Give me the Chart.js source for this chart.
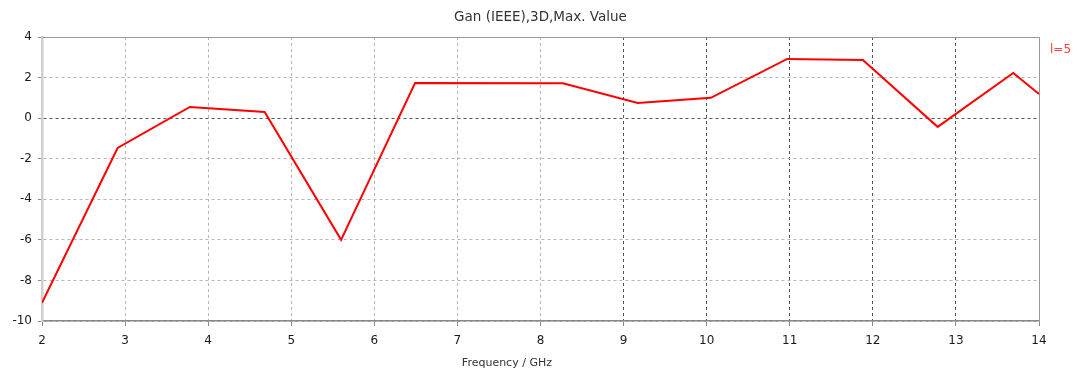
<!DOCTYPE html>
<html>
<head>
<meta charset="utf-8">
<script src="https://cdn.jsdelivr.net/npm/chart.js@4"></script>
<style>
  html, body { margin: 0; padding: 0; background: #fff; }
  #wrap { width: 1078px; height: 372px; }
</style>
</head>
<body>
<div id="wrap"><canvas id="gainChart"></canvas></div>
<script>
// Frequency (GHz) and gain values
const freqs = [2, 2.91, 3.78, 4.68, 5.6, 6.49, 8.27, 9.17, 10.05, 10.97, 11.88, 12.78, 13.69, 14];
const gain = [-9.1, -1.47, 0.55, 0.3, -6.0, 1.73, 1.72, 0.75, 1.0, 2.92, 2.87, -0.43, 2.23, 1.19];
const yTicks = [-10, -8, -6, -4, -2, 0, 2, 4];
const seriesLabel = 'l=5';
const chartTitle = 'Gan (IEEE),3D,Max. Value';
const xTitle = 'Frequency / GHz';

const points = freqs.map((f, i) => ({ x: f, y: gain[i] }));
const fontFamily = '"DejaVu Sans", Verdana, sans-serif';

// frame round the plot area, series label, title and x-axis title
const framePlugin = {
    id: 'frame',
    afterDraw(chart) {
        const { ctx, chartArea: a } = chart;
        ctx.save();
        ctx.strokeStyle = '#9a9a9a';
        ctx.lineWidth = 1;
        ctx.beginPath();
        ctx.moveTo(a.left, a.top + 0.5);
        ctx.lineTo(a.right + 0.5, a.top + 0.5);
        ctx.lineTo(a.right + 0.5, a.bottom);
        ctx.stroke();

        ctx.textBaseline = 'middle';
        ctx.fillStyle = '#ff4040';
        ctx.font = '12px ' + fontFamily;
        ctx.fillText(seriesLabel, a.right + 11, a.top + 13);

        ctx.fillStyle = '#333';
        ctx.textAlign = 'center';
        ctx.font = '13.5px ' + fontFamily;
        ctx.fillText(chartTitle, (a.left + a.right) / 2, 17);
        ctx.font = '11px ' + fontFamily;
        ctx.fillText(xTitle, a.left + (a.right - a.left) * 0.4663, 363);
        ctx.restore();
    }
};

const ctx = document.getElementById('gainChart').getContext('2d');
const gainChart = new Chart(ctx, {
    type: 'line',
    data: {
        datasets: [{
            label: seriesLabel,
            data: points,
            borderColor: '#ff0000',
            borderWidth: 2,
            pointRadius: 0,
            tension: 0,
            fill: false
        }]
    },
    options: {
        responsive: true,
        maintainAspectRatio: false,
        animation: false,
        layout: { padding: { left: 0, right: 39, top: 37, bottom: 0 } },
        plugins: {
            legend: { display: false },
            tooltip: { enabled: false },
            title: { display: false }
        },
        scales: {
            x: {
                type: 'linear',
                min: 2,
                max: 14,
                afterFit: (scale) => { scale.height = 51; },
                ticks: {
                    stepSize: 1,
                    color: '#1a1a1a',
                    padding: 8,
                    maxRotation: 0,
                    font: { family: fontFamily, size: 12 }
                },
                grid: {
                    color: (c) => (c.tick && c.tick.value >= 9 && c.tick.value <= 13) ? '#555' : '#b5b5b5',
                    lineWidth: 1,
                    tickLength: 5,
                    tickColor: '#888'
                },
                border: { color: '#888', width: 1.5, dash: [3, 3] }
            },
            y: {
                min: -10,
                max: 4,
                afterFit: (scale) => { scale.width = 42; },
                afterBuildTicks: (scale) => { scale.ticks = yTicks.map(v => ({ value: v })); },
                ticks: {
                    color: '#1a1a1a',
                    padding: 6,
                    font: { family: fontFamily, size: 12 }
                },
                grid: {
                    color: (c) => (c.tick && c.tick.value === 0) ? '#555' : '#b5b5b5',
                    lineWidth: 1,
                    tickLength: 4,
                    tickColor: '#888'
                },
                border: { color: '#d0d0d0', width: 2.5, dash: [3, 3] }
            }
        }
    },
    plugins: [framePlugin]
});
</script>
</body>
</html>
